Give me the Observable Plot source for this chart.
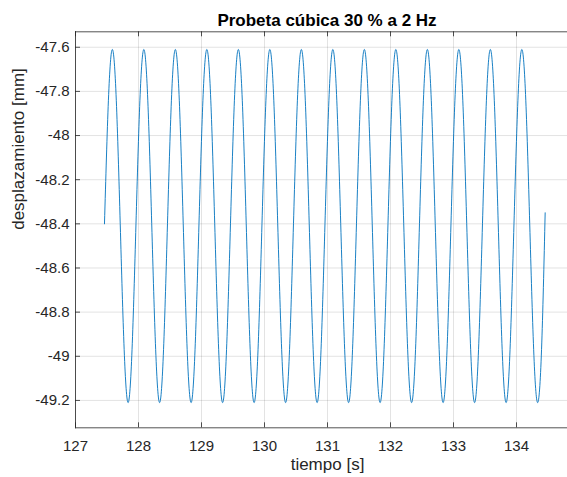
<!DOCTYPE html>
<html>
<head>
<meta charset="utf-8">
<script src="https://cdn.jsdelivr.net/npm/d3@7"></script>
<script src="https://cdn.jsdelivr.net/npm/@observablehq/plot@0.6"></script>
<style>
  html, body { margin: 0; background: #fff; overflow: hidden; font-family: "Liberation Sans", Arial, sans-serif; }
  #wrap { width: 567px; height: 477px; position: relative; overflow: hidden; }
  #title { position: absolute; left: 75px; width: 504px; top: 6px; line-height: 30px;
           text-align: center; font-weight: bold; font-size: 17px; color: #000; white-space: nowrap; }
  #chart { position: absolute; left: 0; top: 30px; }
</style>
</head>
<body>
<div id="wrap">
  <div id="title">Probeta cúbica 30 % a 2 Hz</div>
  <div id="chart"></div>
</div>
<script>
const tiempo = [
  127.46, 127.5225, 127.585, 127.6475, 127.71, 127.7725, 127.835, 127.8975,
  127.96, 128.0225, 128.085, 128.1475, 128.21, 128.2725, 128.335, 128.3975,
  128.46, 128.5225, 128.585, 128.6475, 128.71, 128.7725, 128.835, 128.8975,
  128.96, 129.0225, 129.085, 129.1475, 129.21, 129.2725, 129.335, 129.3975,
  129.46, 129.5225, 129.585, 129.6475, 129.71, 129.7725, 129.835, 129.8975,
  129.96, 130.0225, 130.085, 130.1475, 130.21, 130.2725, 130.335, 130.3975,
  130.46, 130.5225, 130.585, 130.6475, 130.71, 130.7725, 130.835, 130.8975,
  130.96, 131.0225, 131.085, 131.1475, 131.21, 131.2725, 131.335, 131.3975,
  131.46, 131.5225, 131.585, 131.6475, 131.71, 131.7725, 131.835, 131.8975,
  131.96, 132.0225, 132.085, 132.1475, 132.21, 132.2725, 132.335, 132.3975,
  132.46, 132.5225, 132.585, 132.6475, 132.71, 132.7725, 132.835, 132.8975,
  132.96, 133.0225, 133.085, 133.1475, 133.21, 133.2725, 133.335, 133.3975,
  133.46, 133.5225, 133.585, 133.6475, 133.71, 133.7725, 133.835, 133.8975,
  133.96, 134.0225, 134.085, 134.1475, 134.21, 134.2725, 134.335, 134.3975,
  134.455
];
const desplazamiento = [
  -48.40, -47.84, -47.61, -47.84, -48.40, -48.97, -49.21, -48.97,
  -48.40, -47.84, -47.61, -47.84, -48.40, -48.97, -49.21, -48.97,
  -48.40, -47.84, -47.61, -47.84, -48.40, -48.97, -49.21, -48.97,
  -48.40, -47.84, -47.61, -47.84, -48.40, -48.97, -49.21, -48.97,
  -48.40, -47.84, -47.61, -47.84, -48.40, -48.97, -49.21, -48.97,
  -48.40, -47.84, -47.61, -47.84, -48.40, -48.97, -49.21, -48.97,
  -48.40, -47.84, -47.61, -47.84, -48.40, -48.97, -49.21, -48.97,
  -48.40, -47.84, -47.61, -47.84, -48.40, -48.97, -49.21, -48.97,
  -48.40, -47.84, -47.61, -47.84, -48.40, -48.97, -49.21, -48.97,
  -48.40, -47.84, -47.61, -47.84, -48.40, -48.97, -49.21, -48.97,
  -48.40, -47.84, -47.61, -47.84, -48.40, -48.97, -49.21, -48.97,
  -48.40, -47.84, -47.61, -47.84, -48.40, -48.97, -49.21, -48.97,
  -48.40, -47.84, -47.61, -47.84, -48.40, -48.97, -49.21, -48.97,
  -48.40, -47.84, -47.61, -47.84, -48.40, -48.97, -49.21, -48.97,
  -48.35
];
const xTicks = [127, 128, 129, 130, 131, 132, 133, 134];
const yTicks = [-49.2, -49, -48.8, -48.6, -48.4, -48.2, -48, -47.8, -47.6];
const xLabel = "tiempo [s]";
const yLabel = "desplazamiento [mm]";

const data = tiempo.map((t, i) => ({ t, d: desplazamiento[i] }));

// the axes box runs past the right edge of the picture (to t = 135), as in the reference
const W = 567, H = 447, mL = 75, mR = 0, mT = 1.3, mB = 49.7;
const fh = H - mT - mB;
const fmt = d => String(+d.toFixed(1));
const ink = "#262626";

const chart = Plot.plot({
  width: W, height: H,
  marginLeft: mL, marginRight: mR, marginTop: mT, marginBottom: mB,
  x: { domain: [127, 135], range: [mL, 579] },
  y: { domain: [-49.324, -47.53] },
  style: { fontFamily: '"Liberation Sans", Arial, sans-serif', fontSize: "15px", color: ink, background: "#fff" },
  marks: [
    Plot.gridX(xTicks, { stroke: ink, strokeOpacity: 0.13 }),
    Plot.gridY(yTicks, { stroke: ink, strokeOpacity: 0.13 }),
    Plot.tickX(xTicks, { x: d => d, insetTop: fh - 5, stroke: ink, strokeWidth: 0.8 }),
    Plot.tickX(xTicks, { x: d => d, insetBottom: fh - 5, stroke: ink, strokeWidth: 0.8 }),
    Plot.tickY(yTicks, { y: d => d, insetRight: W - mL - 5, stroke: ink, strokeWidth: 0.8 }),
    Plot.line(data, { x: "t", y: "d", curve: "natural", stroke: "#0072BD", strokeWidth: 0.9 }),
    Plot.frame({ anchor: "top", stroke: ink, strokeWidth: 0.8 }),
    Plot.frame({ anchor: "bottom", stroke: ink, strokeWidth: 0.8 }),
    Plot.frame({ anchor: "left", stroke: ink, strokeWidth: 0.8 }),
    Plot.axisX(xTicks, { tickSize: 0, tickPadding: 13, tickFormat: fmt, label: null, fontSize: 15 }),
    Plot.axisY(yTicks, { tickSize: 0, tickPadding: 6, tickFormat: fmt, label: null, fontSize: 15 }),
    Plot.text([xLabel], { text: d => d, x: () => 131, frameAnchor: "bottom", dy: 36.5, lineAnchor: "middle", fontSize: 17, fill: ink }),
    Plot.text([yLabel], { text: d => d, frameAnchor: "left", dx: -56.5, rotate: -90, lineAnchor: "middle", fontSize: 17, fill: ink })
  ]
});
document.getElementById("chart").appendChild(chart);
</script>
</body>
</html>
